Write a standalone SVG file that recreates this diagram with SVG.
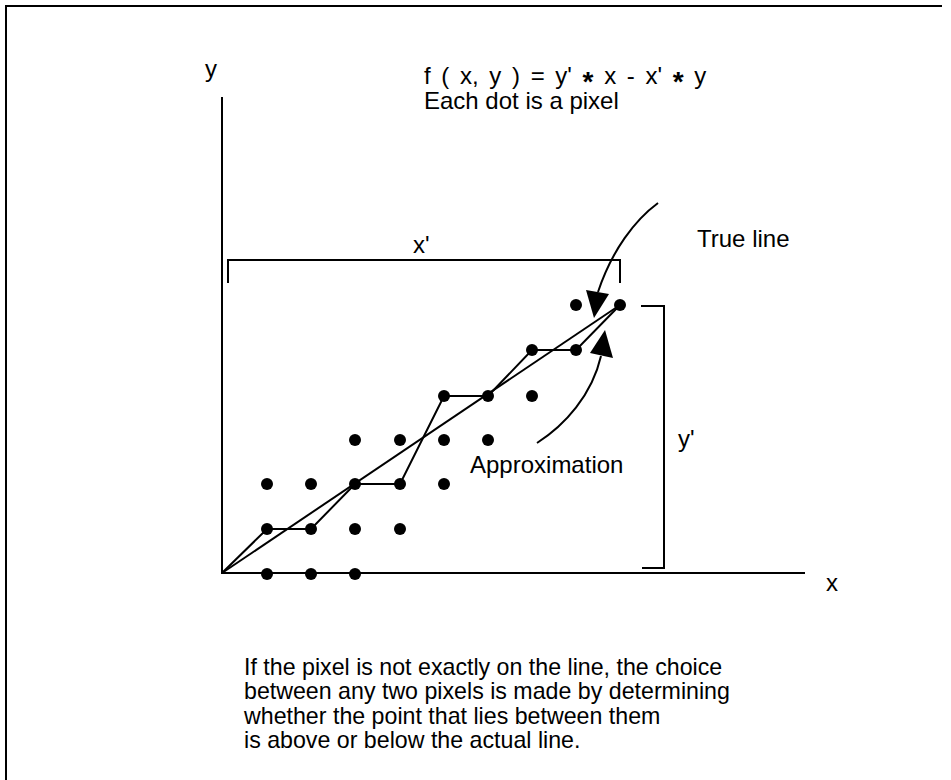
<svg xmlns="http://www.w3.org/2000/svg" width="951" height="780" viewBox="0 0 951 780">
<style>
.t{font-family:"Liberation Sans",Arial,sans-serif;font-size:24px;fill:#000}
.b{font-size:23.2px}
.star{font-size:28px;font-weight:bold}
.ln{fill:none;stroke:#000;stroke-width:2}
.dot{fill:#000}
</style>
<rect width="951" height="780" fill="#fff"/>
<g id="frame">
<path class="ln" d="M6,780 V6 H942" stroke-width="2.5"/>
</g>
<g id="axes">
<path class="ln" d="M222,97 V573 H805"/>
<text class="t" x="205" y="77">y</text>
<text class="t" x="826" y="591">x</text>
</g>
<g id="brackets">
<path class="ln" d="M228,283 V260 H620 V283"/>
<text class="t" x="413" y="253">x'</text>
<path class="ln" d="M641,306 H664 V568 H642"/>
<text class="t" x="678" y="447">y'</text>
</g>
<g id="pixels">
<circle class="dot" cx="267" cy="574" r="6"/><circle class="dot" cx="311" cy="574" r="6"/><circle class="dot" cx="355" cy="574" r="6"/>
<circle class="dot" cx="267" cy="529" r="6"/><circle class="dot" cx="311" cy="529" r="6"/><circle class="dot" cx="355" cy="529" r="6"/><circle class="dot" cx="400" cy="529" r="6"/>
<circle class="dot" cx="267" cy="484" r="6"/><circle class="dot" cx="311" cy="484" r="6"/><circle class="dot" cx="355" cy="484" r="6"/><circle class="dot" cx="400" cy="484" r="6"/><circle class="dot" cx="444" cy="484" r="6"/>
<circle class="dot" cx="355" cy="440" r="6"/><circle class="dot" cx="400" cy="440" r="6"/><circle class="dot" cx="444" cy="440" r="6"/><circle class="dot" cx="488" cy="440" r="6"/>
<circle class="dot" cx="444" cy="396" r="6"/><circle class="dot" cx="488" cy="396" r="6"/><circle class="dot" cx="532" cy="396" r="6"/>
<circle class="dot" cx="532" cy="350" r="6"/><circle class="dot" cx="576" cy="350" r="6"/>
<circle class="dot" cx="576" cy="305" r="6"/><circle class="dot" cx="620" cy="305" r="6"/>
</g>
<g id="connectors">
<path id="true-line" class="ln" d="M222,573 L620,305"/>
<path id="approximation" class="ln" d="M222,573 L267,529 L311,529 L355,484 L400,484 L444,396 L488,396 L532,350 L576,350 L620,305"/>
<path class="ln" d="M658,203 C635,220 612,250 598,292"/>
<polygon class="dot" points="586,290 609,294 594,318"/>
<path class="ln" d="M537,443 C565,425 592,395 601,356"/>
<polygon class="dot" points="605,330 613,358 590,353"/>
</g>
<g id="labels">
<text class="t" x="424" y="84" word-spacing="4">f ( x, y ) = y' <tspan class="star" dy="7">*</tspan><tspan dy="-7"> x - x' </tspan><tspan class="star" dy="7">*</tspan><tspan dy="-7"> y</tspan></text>
<text class="t" x="424" y="109">Each dot is a pixel</text>
<text class="t" x="697" y="247">True line</text>
<text class="t" x="470" y="473">Approximation</text>
<text class="t b" x="244" y="675">If the pixel is not exactly on the line, the choice</text>
<text class="t b" x="244" y="699">between any two pixels is made by determining</text>
<text class="t b" x="244" y="724">whether the point that lies between them</text>
<text class="t b" x="244" y="748">is above or below the actual line.</text>
</g>
</svg>
